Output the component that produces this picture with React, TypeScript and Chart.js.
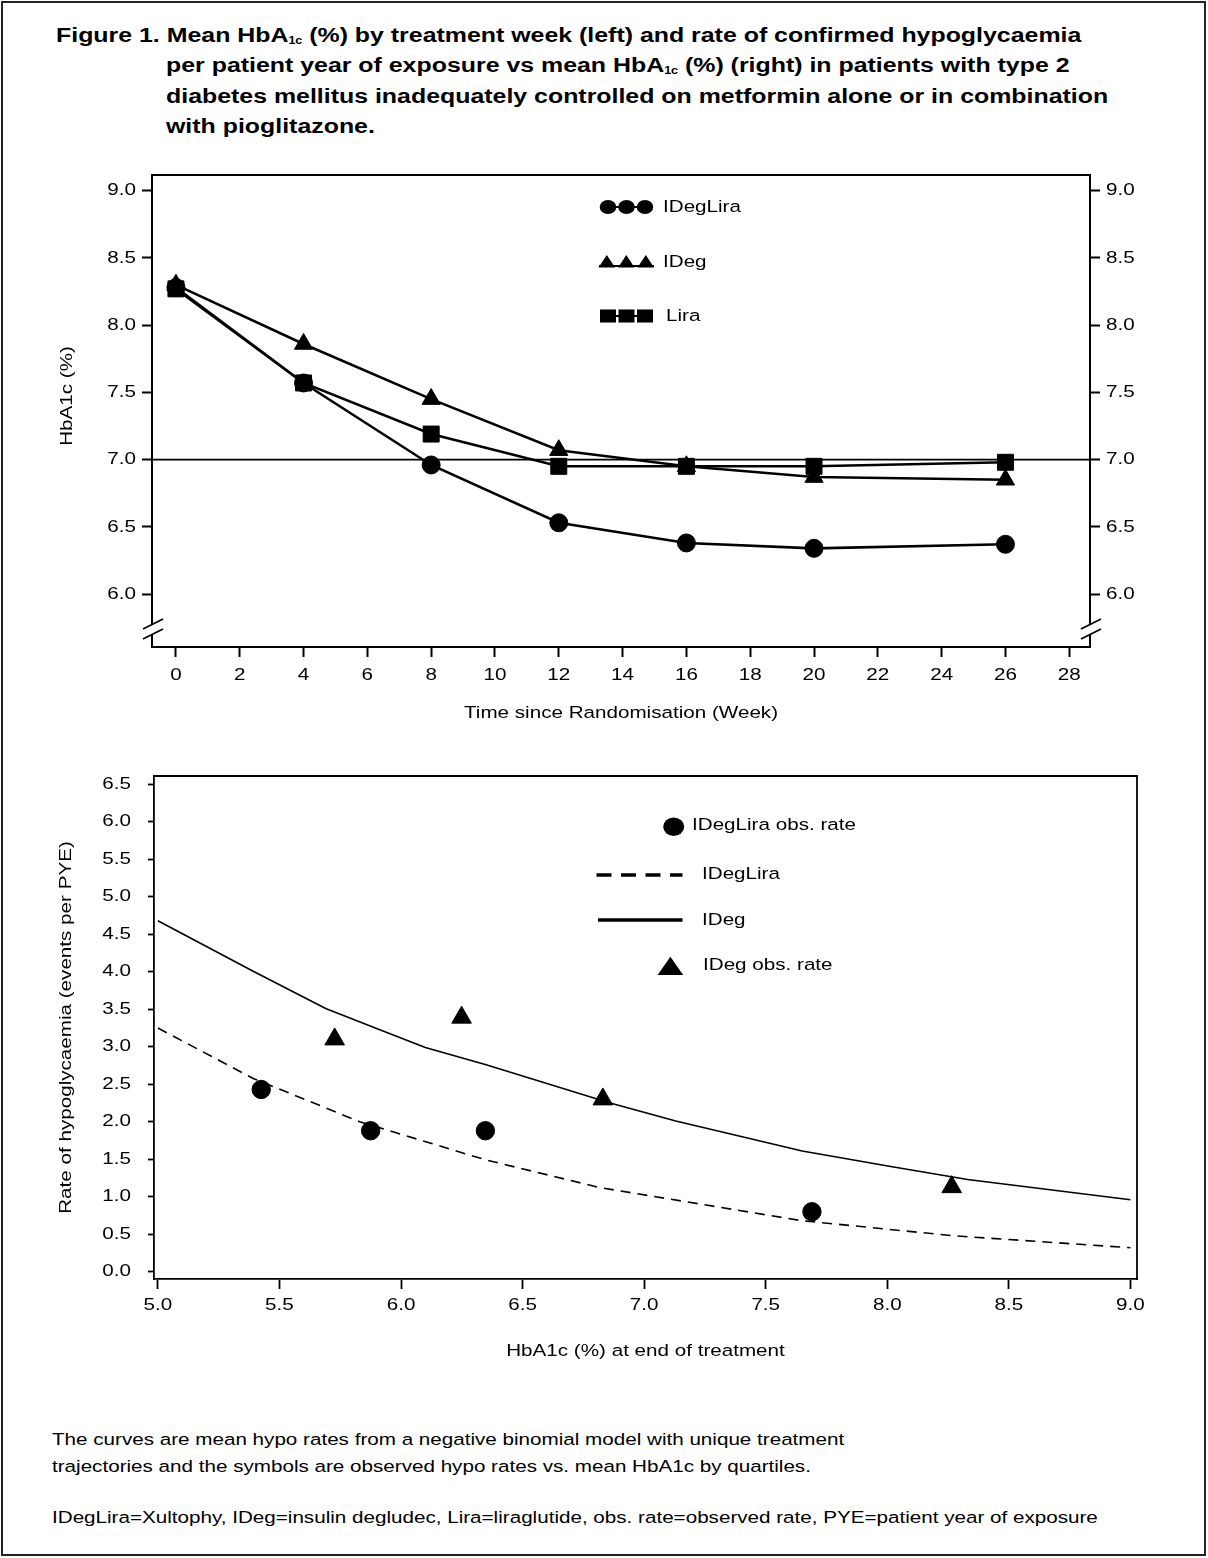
import React, { useEffect, useRef } from 'react';
import { Chart, registerables } from 'chart.js';

Chart.register(...registerables);

const FONT_FAMILY = "'Liberation Sans', Arial, Helvetica, sans-serif";
const FONT_SIZE = 17.2;
const TEXT_STRETCH = 1.2;
const FONT_CSS = `${FONT_SIZE}px ${FONT_FAMILY}`;

// ---------- Top chart: mean HbA1c by treatment week ----------
const weeks = [0, 4, 8, 12, 16, 20, 26];
const hba1cIDegLira = [8.28, 7.57, 6.96, 6.53, 6.38, 6.34, 6.37];
const hba1cIDeg = [8.3, 7.86, 7.45, 7.07, 6.95, 6.87, 6.85];
const hba1cLira = [8.27, 7.57, 7.19, 6.95, 6.95, 6.95, 6.98];
const topLegendLabels = ['IDegLira', 'IDeg', 'Lira'];
const targetHbA1c = 7.0;

// ---------- Bottom chart: hypoglycaemia rate vs HbA1c ----------
const modelIDegX = [5.0, 5.39, 5.69, 5.91, 6.1, 6.35, 6.53, 6.86, 7.13, 7.65, 8.02, 8.33, 9.0];
const modelIDegY = [4.68, 4.01, 3.51, 3.23, 2.99, 2.76, 2.58, 2.25, 2.01, 1.61, 1.4, 1.23, 0.96];
const modelIDegLiraX = [5.0, 5.39, 5.83, 6.35, 6.82, 7.65, 8.27, 9.0];
const modelIDegLiraY = [3.25, 2.58, 2.0, 1.49, 1.12, 0.68, 0.48, 0.32];
const obsIDegLiraX = [5.425, 5.875, 6.347, 7.69];
const obsIDegLiraY = [2.43, 1.88, 1.88, 0.8];
const obsIDegX = [5.727, 6.249, 6.83, 8.265];
const obsIDegY = [3.1, 3.39, 2.3, 1.13];
const bottomLegendLabels = ['IDegLira obs. rate', 'IDegLira', 'IDeg', 'IDeg obs. rate'];

const pts = (xs: number[], ys: number[]) => xs.map((x, i) => ({ x, y: ys[i] }));

function stretchCanvasText(canvas: HTMLCanvasElement) {
  const ctx = canvas.getContext('2d') as any;
  if (!ctx || ctx.__stretched) return;
  ctx.__stretched = true;
  const orig = ctx.fillText;
  ctx.fillText = function (text: string, x: number, y: number) {
    this.save();
    this.translate(x, y);
    this.scale(TEXT_STRETCH, 1);
    orig.call(this, text, 0, 0);
    this.restore();
  };
}

const font = { family: FONT_FAMILY, size: FONT_SIZE };

function fillEllipse(ctx: CanvasRenderingContext2D, cx: number, cy: number, rx: number, ry: number) {
  ctx.beginPath();
  ctx.ellipse(cx, cy, rx, ry, 0, 0, Math.PI * 2);
  ctx.fill();
}
function fillTriangle(ctx: CanvasRenderingContext2D, cx: number, top: number, w: number, h: number) {
  ctx.beginPath();
  ctx.moveTo(cx, top);
  ctx.lineTo(cx + w / 2, top + h);
  ctx.lineTo(cx - w / 2, top + h);
  ctx.closePath();
  ctx.fill();
}
function line(ctx: CanvasRenderingContext2D, x1: number, y1: number, x2: number, y2: number) {
  ctx.beginPath();
  ctx.moveTo(x1, y1);
  ctx.lineTo(x2, y2);
  ctx.stroke();
}
function label(ctx: CanvasRenderingContext2D, text: string, x: number, y: number) {
  ctx.font = FONT_CSS;
  ctx.fillStyle = '#000';
  ctx.textAlign = 'left';
  ctx.textBaseline = 'middle';
  ctx.fillText(text, x, y);
}

const topDecor = {
  id: 'topDecor',
  beforeDatasetsDraw(chart: any) {
    const { ctx, chartArea: a, scales } = chart;
    const yy = scales.y.getPixelForValue(targetHbA1c);
    ctx.save();
    ctx.strokeStyle = '#000';
    ctx.lineWidth = 1.6;
    line(ctx, a.left, yy, a.right, yy);
    ctx.restore();
  },
  afterDraw(chart: any) {
    const { ctx, chartArea: a } = chart;
    ctx.save();
    ctx.strokeStyle = '#000';
    ctx.fillStyle = '#000';
    ctx.lineWidth = 2;
    // top frame line
    line(ctx, a.left - 1, a.top, a.right + 1, a.top);
    // axis breaks
    for (const ax of [a.left, a.right]) {
      ctx.fillStyle = '#fff';
      ctx.fillRect(ax - 3, a.bottom - 22, 6, 10);
      ctx.strokeStyle = '#000';
      ctx.lineWidth = 1.8;
      line(ctx, ax - 9, a.bottom - 18, ax + 11, a.bottom - 28);
      line(ctx, ax - 9, a.bottom - 8, ax + 11, a.bottom - 18);
    }
    ctx.fillStyle = '#000';
    // legend
    ctx.lineWidth = 2;
    line(ctx, 600, 47, 653, 47);
    for (const cx of [608, 626.5, 645]) fillEllipse(ctx, cx, 47, 8.3, 6.9);
    label(ctx, topLegendLabels[0], 663, 47);
    line(ctx, 599, 106, 654, 106);
    for (const cx of [606.8, 626.3, 645.8]) fillTriangle(ctx, cx, 95, 16.5, 12.5);
    label(ctx, topLegendLabels[1], 663, 102);
    line(ctx, 600, 156, 653, 156);
    for (const cx of [608, 626.5, 645]) ctx.fillRect(cx - 8, 149.5, 16, 13);
    label(ctx, topLegendLabels[2], 666, 156);
    // y-axis title
    ctx.save();
    ctx.translate(67, 236);
    ctx.rotate(-Math.PI / 2);
    ctx.font = FONT_CSS;
    ctx.textAlign = 'center';
    ctx.textBaseline = 'middle';
    ctx.fillText('HbA1c (%)', 0, 0);
    ctx.restore();
    ctx.restore();
  },
};

const bottomDecor = {
  id: 'bottomDecor',
  afterDraw(chart: any) {
    const { ctx, chartArea: a } = chart;
    ctx.save();
    ctx.strokeStyle = '#000';
    ctx.fillStyle = '#000';
    ctx.lineWidth = 1.8;
    line(ctx, a.left - 1, a.top, a.right + 1, a.top);
    line(ctx, a.right, a.top, a.right, a.bottom + 1);
    // legend
    fillEllipse(ctx, 673.7, 66.7, 10.5, 9.2);
    label(ctx, bottomLegendLabels[0], 692, 65);
    ctx.lineWidth = 3.5;
    ctx.setLineDash([15, 9.5]);
    line(ctx, 596.5, 115, 682.5, 115);
    ctx.setLineDash([]);
    label(ctx, bottomLegendLabels[1], 702, 114);
    line(ctx, 598, 160, 682.5, 160);
    label(ctx, bottomLegendLabels[2], 702, 160);
    fillTriangle(ctx, 670.4, 196.7, 25.6, 18.3);
    label(ctx, bottomLegendLabels[3], 703, 205);
    ctx.restore();
  },
};

const blackTicks = (len: number, w: number) => ({
  drawOnChartArea: false,
  drawTicks: true,
  tickLength: len,
  tickWidth: w,
  tickColor: '#000',
});

export default function App() {
  const topRef = useRef<HTMLCanvasElement>(null);
  const botRef = useRef<HTMLCanvasElement>(null);

  useEffect(() => {
    if (!topRef.current || !botRef.current) return;
    stretchCanvasText(topRef.current);
    stretchCanvasText(botRef.current);

    const series = (data: number[], style: string, radius: number) => ({
      data: pts(weeks, data),
      borderColor: '#000',
      backgroundColor: '#000',
      borderWidth: 2.6,
      pointStyle: style,
      pointRadius: radius,
      pointBackgroundColor: '#000',
      pointBorderColor: '#000',
      pointBorderWidth: 1,
      tension: 0,
      fill: false,
    });

    const yTopAxis = (position: 'left' | 'right', width: number) => ({
      type: 'linear',
      position,
      min: 5.606,
      max: 9.117,
      ticks: {
        stepSize: 0.5,
        includeBounds: false,
        padding: 6,
        color: '#000',
        font,
        callback: (v: any) => Number(v).toFixed(1),
      },
      grid: blackTicks(10, 2),
      border: { display: true, color: '#000', width: 2 },
      afterFit: (s: any) => {
        s.width = width;
        s.paddingTop = 0;
        s.paddingBottom = 0;
      },
    });

    const top = new Chart(topRef.current, {
      type: 'line',
      data: {
        datasets: [
          { label: topLegendLabels[0], ...series(hba1cIDegLira, 'circle', 9) },
          { label: topLegendLabels[1], ...series(hba1cIDeg, 'triangle', 10.5) },
          { label: topLegendLabels[2], ...series(hba1cLira, 'rect', 11.3) },
        ],
      } as any,
      options: {
        responsive: false,
        animation: false,
        events: [],
        layout: { padding: { top: 15, left: 0, right: 0, bottom: 0 } },
        plugins: { legend: { display: false }, tooltip: { enabled: false } },
        scales: {
          x: {
            type: 'linear',
            position: 'bottom',
            min: -0.75,
            max: 28.65,
            ticks: {
              stepSize: 2,
              includeBounds: false,
              autoSkip: false,
              maxRotation: 0,
              padding: 8,
              color: '#000',
              font,
              callback: (v: any) => String(v),
            },
            grid: blackTicks(10, 2),
            border: { display: true, color: '#000', width: 2 },
            title: {
              display: true,
              text: 'Time since Randomisation (Week)',
              color: '#000',
              font,
              padding: { top: 0, bottom: 26.7 },
            },
            afterFit: (s: any) => {
              s.height = 103;
              s.paddingLeft = 0;
              s.paddingRight = 0;
            },
          },
          y: yTopAxis('left', 152),
          y2: yTopAxis('right', 118),
        } as any,
      },
      plugins: [topDecor],
    } as any);

    const bottom = new Chart(botRef.current, {
      type: 'line',
      data: {
        datasets: [
          {
            label: bottomLegendLabels[0],
            data: pts(obsIDegLiraX, obsIDegLiraY),
            showLine: false,
            pointStyle: 'circle',
            pointRadius: 9.2,
            pointBackgroundColor: '#000',
            pointBorderColor: '#000',
            pointBorderWidth: 1,
          },
          {
            label: bottomLegendLabels[3],
            data: pts(obsIDegX, obsIDegY),
            showLine: false,
            pointStyle: 'triangle',
            pointRadius: 11.3,
            pointBackgroundColor: '#000',
            pointBorderColor: '#000',
            pointBorderWidth: 1,
          },
          {
            label: bottomLegendLabels[1],
            data: pts(modelIDegLiraX, modelIDegLiraY),
            borderColor: '#000',
            borderWidth: 1.6,
            borderDash: [10, 7],
            pointRadius: 0,
            tension: 0,
            fill: false,
          },
          {
            label: bottomLegendLabels[2],
            data: pts(modelIDegX, modelIDegY),
            borderColor: '#000',
            borderWidth: 1.6,
            pointRadius: 0,
            tension: 0,
            fill: false,
          },
        ],
      } as any,
      options: {
        responsive: false,
        animation: false,
        events: [],
        layout: { padding: { top: 16, left: 0, right: 71, bottom: 0 } },
        plugins: { legend: { display: false }, tooltip: { enabled: false } },
        scales: {
          x: {
            type: 'linear',
            position: 'bottom',
            min: 4.984,
            max: 9.027,
            ticks: {
              stepSize: 0.5,
              includeBounds: false,
              autoSkip: false,
              maxRotation: 0,
              padding: 6.2,
              color: '#000',
              font,
              callback: (v: any) => Number(v).toFixed(1),
            },
            grid: blackTicks(10, 1.8),
            border: { display: true, color: '#000', width: 1.8 },
            title: {
              display: true,
              text: 'HbA1c (%) at end of treatment',
              color: '#000',
              font,
              padding: { top: 0, bottom: 18.7 },
            },
            afterFit: (s: any) => {
              s.height = 101;
              s.paddingLeft = 0;
              s.paddingRight = 0;
            },
          },
          y: {
            type: 'linear',
            position: 'left',
            min: -0.097,
            max: 6.61,
            ticks: {
              stepSize: 0.5,
              includeBounds: false,
              padding: 17,
              color: '#000',
              font,
              callback: (v: any) => Number(v).toFixed(1),
            },
            grid: blackTicks(6, 1.8),
            border: { display: true, color: '#000', width: 1.8 },
            title: {
              display: true,
              text: 'Rate of hypoglycaemia (events per PYE)',
              color: '#000',
              font,
              padding: { top: 55.7, bottom: 0 },
            },
            afterFit: (s: any) => {
              s.width = 154;
              s.paddingTop = 0;
              s.paddingBottom = 0;
            },
          },
        } as any,
      },
      plugins: [bottomDecor],
    } as any);

    return () => {
      top.destroy();
      bottom.destroy();
    };
  }, []);

  const sub = <span style={{ fontSize: 10, verticalAlign: '-2px' }}>1c</span>;
  const titleLine = (left: number, top: number): React.CSSProperties => ({
    position: 'absolute',
    left,
    top,
    fontSize: 20,
    lineHeight: '30px',
    fontWeight: 'bold',
    whiteSpace: 'nowrap',
    transform: 'scaleX(1.245)',
    transformOrigin: '0 0',
  });
  const noteLine = (top: number): React.CSSProperties => ({
    position: 'absolute',
    left: 52,
    top,
    fontSize: 17.2,
    lineHeight: '20px',
    whiteSpace: 'nowrap',
    transform: 'scaleX(1.2)',
    transformOrigin: '0 0',
  });

  return (
    <div
      style={{
        position: 'absolute',
        left: 0,
        top: 0,
        width: 1208,
        height: 1558,
        background: '#fff',
        overflow: 'hidden',
        fontFamily: FONT_FAMILY,
        color: '#000',
      }}
    >
      <div
        style={{
          position: 'absolute',
          left: 1,
          top: 1,
          width: 1201,
          height: 1551,
          border: '2px solid #222',
        }}
      />
      <div style={titleLine(56, 20)}>
        Figure 1. Mean HbA{sub} (%) by treatment week (left) and rate of confirmed hypoglycaemia
      </div>
      <div style={titleLine(166, 50.3)}>
        per patient year of exposure vs mean HbA{sub} (%) (right) in patients with type 2
      </div>
      <div style={titleLine(166, 80.6)}>
        diabetes mellitus inadequately controlled on metformin alone or in combination
      </div>
      <div style={titleLine(166, 111)}>with pioglitazone.</div>

      <canvas
        ref={topRef}
        width={1208}
        height={590}
        style={{ position: 'absolute', left: 0, top: 160, width: 1208, height: 590 }}
      />
      <canvas
        ref={botRef}
        width={1208}
        height={620}
        style={{ position: 'absolute', left: 0, top: 760, width: 1208, height: 620 }}
      />

      <div style={noteLine(1429.3)}>
        The curves are mean hypo rates from a negative binomial model with unique treatment
      </div>
      <div style={noteLine(1455.7)}>
        trajectories and the symbols are observed hypo rates vs. mean HbA1c by quartiles.
      </div>
      <div style={noteLine(1506.7)}>
        IDegLira=Xultophy, IDeg=insulin degludec, Lira=liraglutide, obs. rate=observed rate, PYE=patient year of
        exposure
      </div>
    </div>
  );
}
